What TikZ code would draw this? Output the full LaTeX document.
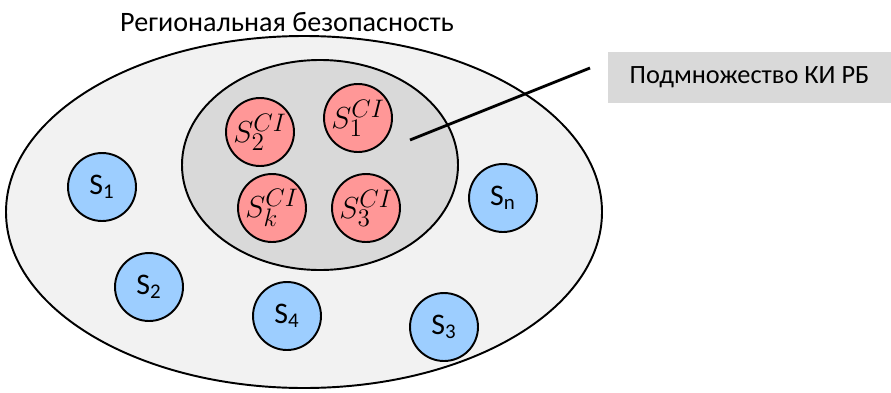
\documentclass[tikz,border=0pt]{standalone}
\usepackage{fontspec}
\setmainfont{Carlito}
\usepackage{tikz}
\usetikzlibrary{shapes.geometric}
\definecolor{sblue}{HTML}{9DCEFF}
\definecolor{sred}{HTML}{FF9797}
\definecolor{lgray}{HTML}{F2F2F2}
\definecolor{mgray}{HTML}{D9D9D9}
\tikzset{reg/.style = {draw, circle, line width = 1.1pt, fill = sblue,
                       minimum size = 1.36cm, inner sep = 0, font = \fontsize{17}{17}\selectfont}}
\tikzset{kri/.style = {draw, circle, line width = 1.1pt, fill = sred,
                       minimum size = 1.36cm, inner sep = 0, font = \fontsize{19}{19}\selectfont}}
\tikzset{zone/.style = {draw, ellipse, line width = 1.1pt, inner sep = 0}}

\begin{document}
\begin{tikzpicture}[x = 0.02cm, y = -0.02cm]
    \useasboundingbox (0, 0) rectangle (891, 392);

    \node [zone, fill = lgray, minimum width = 596*0.02cm, minimum height = 352*0.02cm] (region) at (304, 212) {};
    \node [font = \fontsize{16}{16}\selectfont] (title) at (287, 22) {Региональная безопасность};

    \node [zone, fill = mgray, minimum width = 276*0.02cm, minimum height = 210*0.02cm] (subset) at (320, 165) {};

    \node [kri] (c2) at (260, 132) {$S_2^{CI}$};
    \node [kri] (c1) at (358, 118) {$S_1^{CI}$};
    \node [kri] (ck) at (272, 208) {$S_k^{CI}$};
    \node [kri] (c3) at (366, 208) {$S_3^{CI}$};

    \node [reg] (s1) at (102, 187) {S\textsubscript{1}};
    \node [reg] (s2) at (149, 287) {S\textsubscript{2}};
    \node [reg] (s4) at (287, 316) {S\textsubscript{4}};
    \node [reg] (s3) at (444, 327) {S\textsubscript{3}};
    \node [reg] (sn) at (503, 198) {S\textsubscript{n}};

    \node [fill = mgray, minimum width = 283*0.02cm, minimum height = 51*0.02cm,
           font = \fontsize{15}{15}\selectfont] (legend) at (749.5, 77.5) {Подмножество КИ РБ};

    \coordinate (tip) at (410, 140);
    \coordinate (tail) at (590, 68);
    \draw [line width = 1.6pt] (tip) -- (tail);
\end{tikzpicture}
\end{document}
